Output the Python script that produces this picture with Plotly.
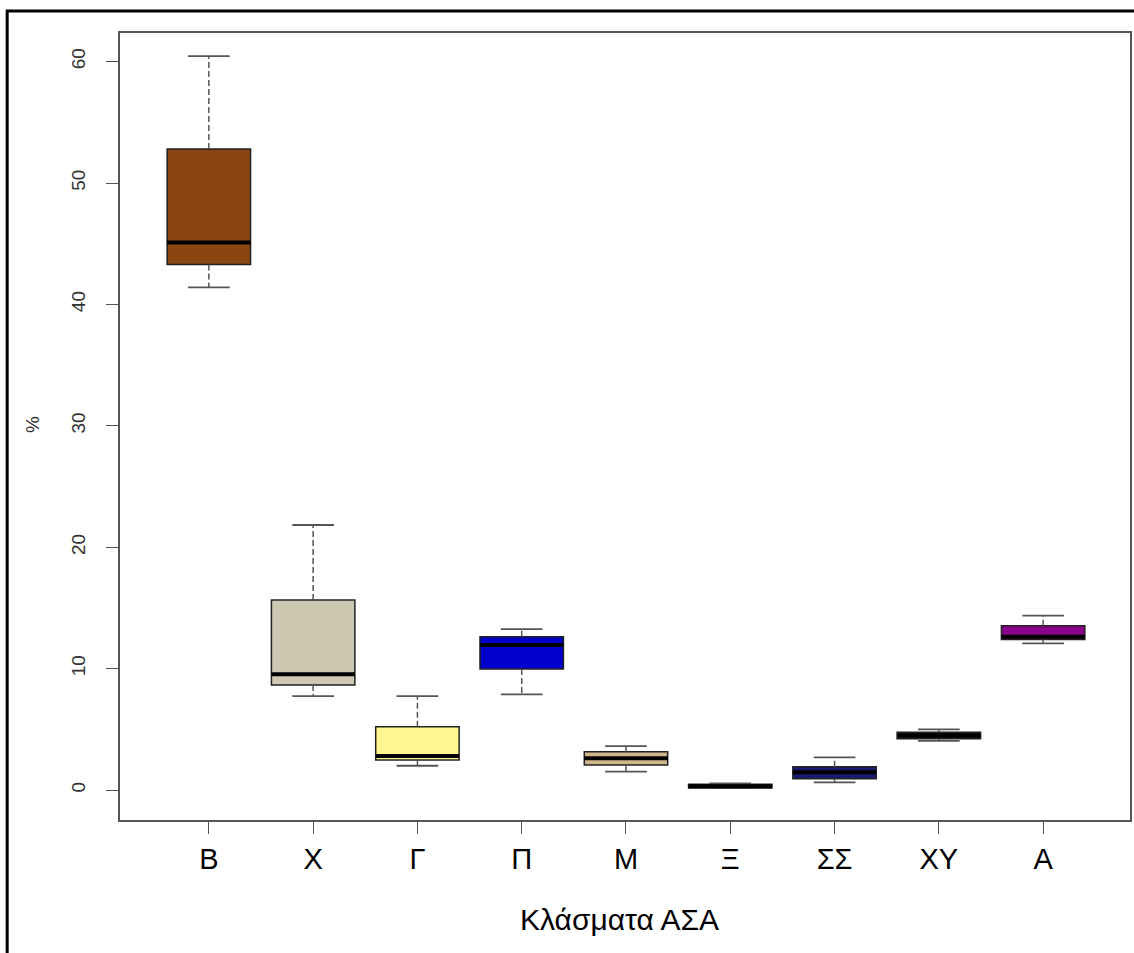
import plotly.graph_objects as go

categories = ["Β", "Χ", "Γ", "Π", "Μ", "Ξ", "ΣΣ", "ΧΥ", "Α"]
lower_whisker = [41.4, 7.74, 2.0, 7.88, 1.51, 0.15, 0.63, 4.04, 12.08]
q1 = [43.3, 8.65, 2.47, 9.97, 2.06, 0.16, 0.93, 4.23, 12.40]
median = [45.1, 9.53, 2.80, 11.94, 2.61, 0.30, 1.46, 4.50, 12.63]
q3 = [52.8, 15.65, 5.22, 12.63, 3.16, 0.47, 1.92, 4.75, 13.54]
upper_whisker = [60.46, 21.83, 7.74, 13.26, 3.62, 0.55, 2.69, 5.00, 14.36]
box_colors = ["#8B4513", "#CDC8B1", "#FFF68F", "#0000CD", "#D2B48C",
              "#1a1a1a", "#191970", "#111111", "#8B008B"]
y_ticks = [0, 10, 20, 30, 40, 50, 60]

xs = list(range(1, len(categories) + 1))
box_w = 0.8
cap_w = 0.4
axis_grey = "#555555"

fig = go.Figure()

# dashed whiskers
wx, wy = [], []
for i, x in enumerate(xs):
    wx += [x, x, None, x, x, None]
    wy += [q3[i], upper_whisker[i], None, q1[i], lower_whisker[i], None]
fig.add_trace(go.Scatter(x=wx, y=wy, mode="lines",
                         line=dict(color=axis_grey, width=1.5, dash="6px,3px"),
                         hoverinfo="skip", showlegend=False))

# caps
cx, cy = [], []
for i, x in enumerate(xs):
    cx += [x - cap_w / 2, x + cap_w / 2, None, x - cap_w / 2, x + cap_w / 2, None]
    cy += [upper_whisker[i], upper_whisker[i], None, lower_whisker[i], lower_whisker[i], None]
fig.add_trace(go.Scatter(x=cx, y=cy, mode="lines",
                         line=dict(color=axis_grey, width=1.8),
                         hoverinfo="skip", showlegend=False))

# boxes
fig.add_trace(go.Bar(x=xs, y=[q3[i] - q1[i] for i in range(len(xs))], base=q1,
                     width=box_w, marker=dict(color=box_colors,
                                              line=dict(color="#222222", width=1.5)),
                     showlegend=False))

# medians
mx, my = [], []
for i, x in enumerate(xs):
    mx += [x - box_w / 2, x + box_w / 2, None]
    my += [median[i], median[i], None]
fig.add_trace(go.Scatter(x=mx, y=my, mode="lines",
                         line=dict(color="black", width=4),
                         hoverinfo="skip", showlegend=False))

fig.update_layout(
    width=1134, height=953,
    margin=dict(l=120, r=2, t=33, b=133),
    paper_bgcolor="white", plot_bgcolor="white",
    font=dict(family="Liberation Sans, Arial, sans-serif"),
    xaxis=dict(range=[0.148, 9.833], tickvals=xs, ticktext=categories,
               showgrid=False, zeroline=False, showline=True, mirror=True,
               linecolor=axis_grey, linewidth=1.5,
               ticks="outside", ticklen=12, tickcolor=axis_grey, tickwidth=1.2,
               tickfont=dict(size=29, color="black")),
    yaxis=dict(range=[-2.47, 62.36], tickvals=y_ticks,
               showgrid=False, zeroline=False, showline=True, mirror=True,
               linecolor=axis_grey, linewidth=1.5,
               ticks="outside", ticklen=12, tickcolor=axis_grey, tickwidth=1.2,
               tickangle=-90, ticklabelstandoff=14,
               tickfont=dict(size=19, color="#333333")),
    shapes=[dict(type="rect", xref="paper", yref="paper",
                 x0=-0.1117, x1=1.05, y0=-0.4, y1=1.028,
                 line=dict(color="black", width=3), layer="above")],
    annotations=[
        dict(text="%", xref="paper", yref="paper", x=-0.086, y=0.502,
             xanchor="center", yanchor="middle",
             showarrow=False, textangle=-90, font=dict(size=19, color="#333333")),
        dict(text="Κλάσματα ΑΣΑ", xref="paper", yref="paper", x=0.495, y=-0.127,
             xanchor="center", yanchor="middle",
             showarrow=False, font=dict(size=30, color="black")),
    ],
)

fig.write_html("out.html", config={"displayModeBar": False},
               post_script="document.body.style.margin='0';")
